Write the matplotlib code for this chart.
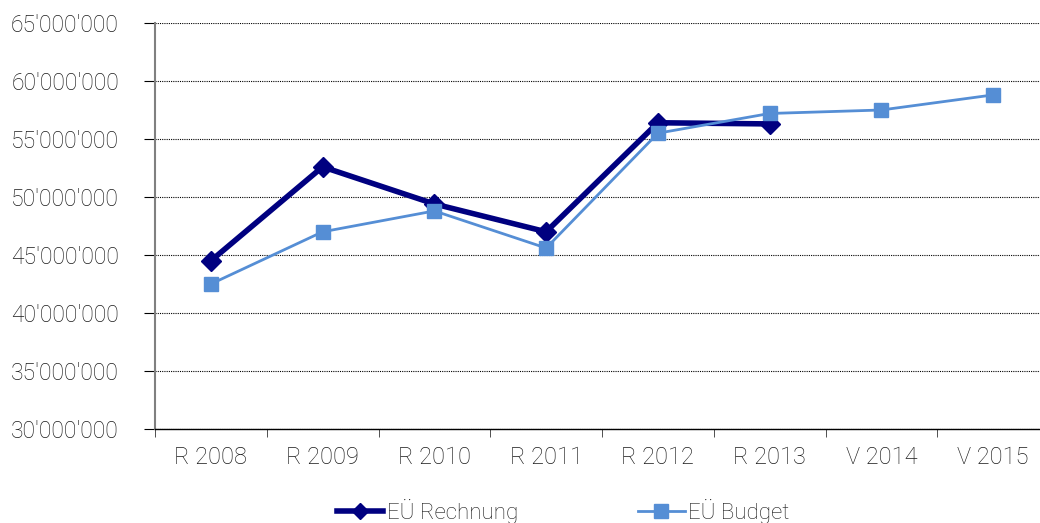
import matplotlib
matplotlib.use("Agg")
import matplotlib.pyplot as plt
from matplotlib.ticker import FuncFormatter, FixedLocator
from matplotlib.lines import Line2D

plt.rcParams['font.family'] = ['Roboto', 'DejaVu Sans']
plt.rcParams['font.weight'] = 'light'

categories = ["R 2008", "R 2009", "R 2010", "R 2011", "R 2012", "R 2013", "V 2014", "V 2015"]
rechnung = [44.5e6, 52.6e6, 49.4e6, 47.0e6, 56.4e6, 56.3e6]
budget = [42.5e6, 47.0e6, 48.8e6, 45.6e6, 55.5e6, 57.2e6, 57.5e6, 58.8e6]
yticks = [30e6, 35e6, 40e6, 45e6, 50e6, 55e6, 60e6, 65e6]

W, H = 1040, 523
fig = plt.figure(figsize=(W/100, H/100), dpi=100)
left, right, top, bottom = 155, 1049, 23, 429
ax = fig.add_axes([left/W, 1 - bottom/H, (right-left)/W, (bottom-top)/H])

x = list(range(len(categories)))
ax.plot(x[:len(rechnung)], rechnung, color='#000080', lw=4, marker='D', ms=10,
        label='EÜ Rechnung', zorder=3)
ax.plot(x, budget, color='#558ED5', lw=2, marker='s', ms=10,
        label='EÜ Budget', zorder=4)

ax.set_xlim(-0.5, len(categories) - 0.5)
ax.set_ylim(30e6, 65e6)
ax.set_yticks(yticks)
ax.yaxis.set_major_formatter(FuncFormatter(lambda v, p: f"{int(v):,}".replace(",", "'")))
ax.set_xticks(x)
ax.set_xticklabels(categories)
ax.xaxis.set_major_locator(FixedLocator(x))
ax.tick_params(axis='x', length=0, pad=12, labelsize=17, colors='#1a1a1a')
ax.xaxis.set_minor_locator(FixedLocator([i + 0.5 for i in range(-1, len(categories))]))
ax.tick_params(axis='x', which='minor', length=6, direction='out', color='#333333')
ax.tick_params(axis='y', length=8, direction='out', labelsize=16.5, colors='#1a1a1a', pad=18)
ax.tick_params(axis='y', color='#000000')

ax.grid(axis='y', color='#000000', linestyle=(0, (1, 1)), lw=0.8)
ax.set_axisbelow(True)
for s in ['top', 'right']:
    ax.spines[s].set_visible(False)
ax.spines['left'].set_color('#808080')
ax.spines['left'].set_linewidth(1.5)
ax.spines['bottom'].set_color('#000000')
ax.spines['bottom'].set_linewidth(1)

handles = [Line2D([], [], color='#000080', lw=4, marker='D', ms=8),
           Line2D([], [], color='#558ED5', lw=2, marker='s', ms=10)]
fig.legend(handles, ['EÜ Rechnung', 'EÜ Budget'], loc='center',
           bbox_to_anchor=(563/W, 1 - 511/H), ncol=2, frameon=False,
           fontsize=16, handlelength=2.1, handletextpad=0.15, columnspacing=5.4,
           labelcolor='#1a1a1a')

fig.savefig("out.png", dpi=100)
